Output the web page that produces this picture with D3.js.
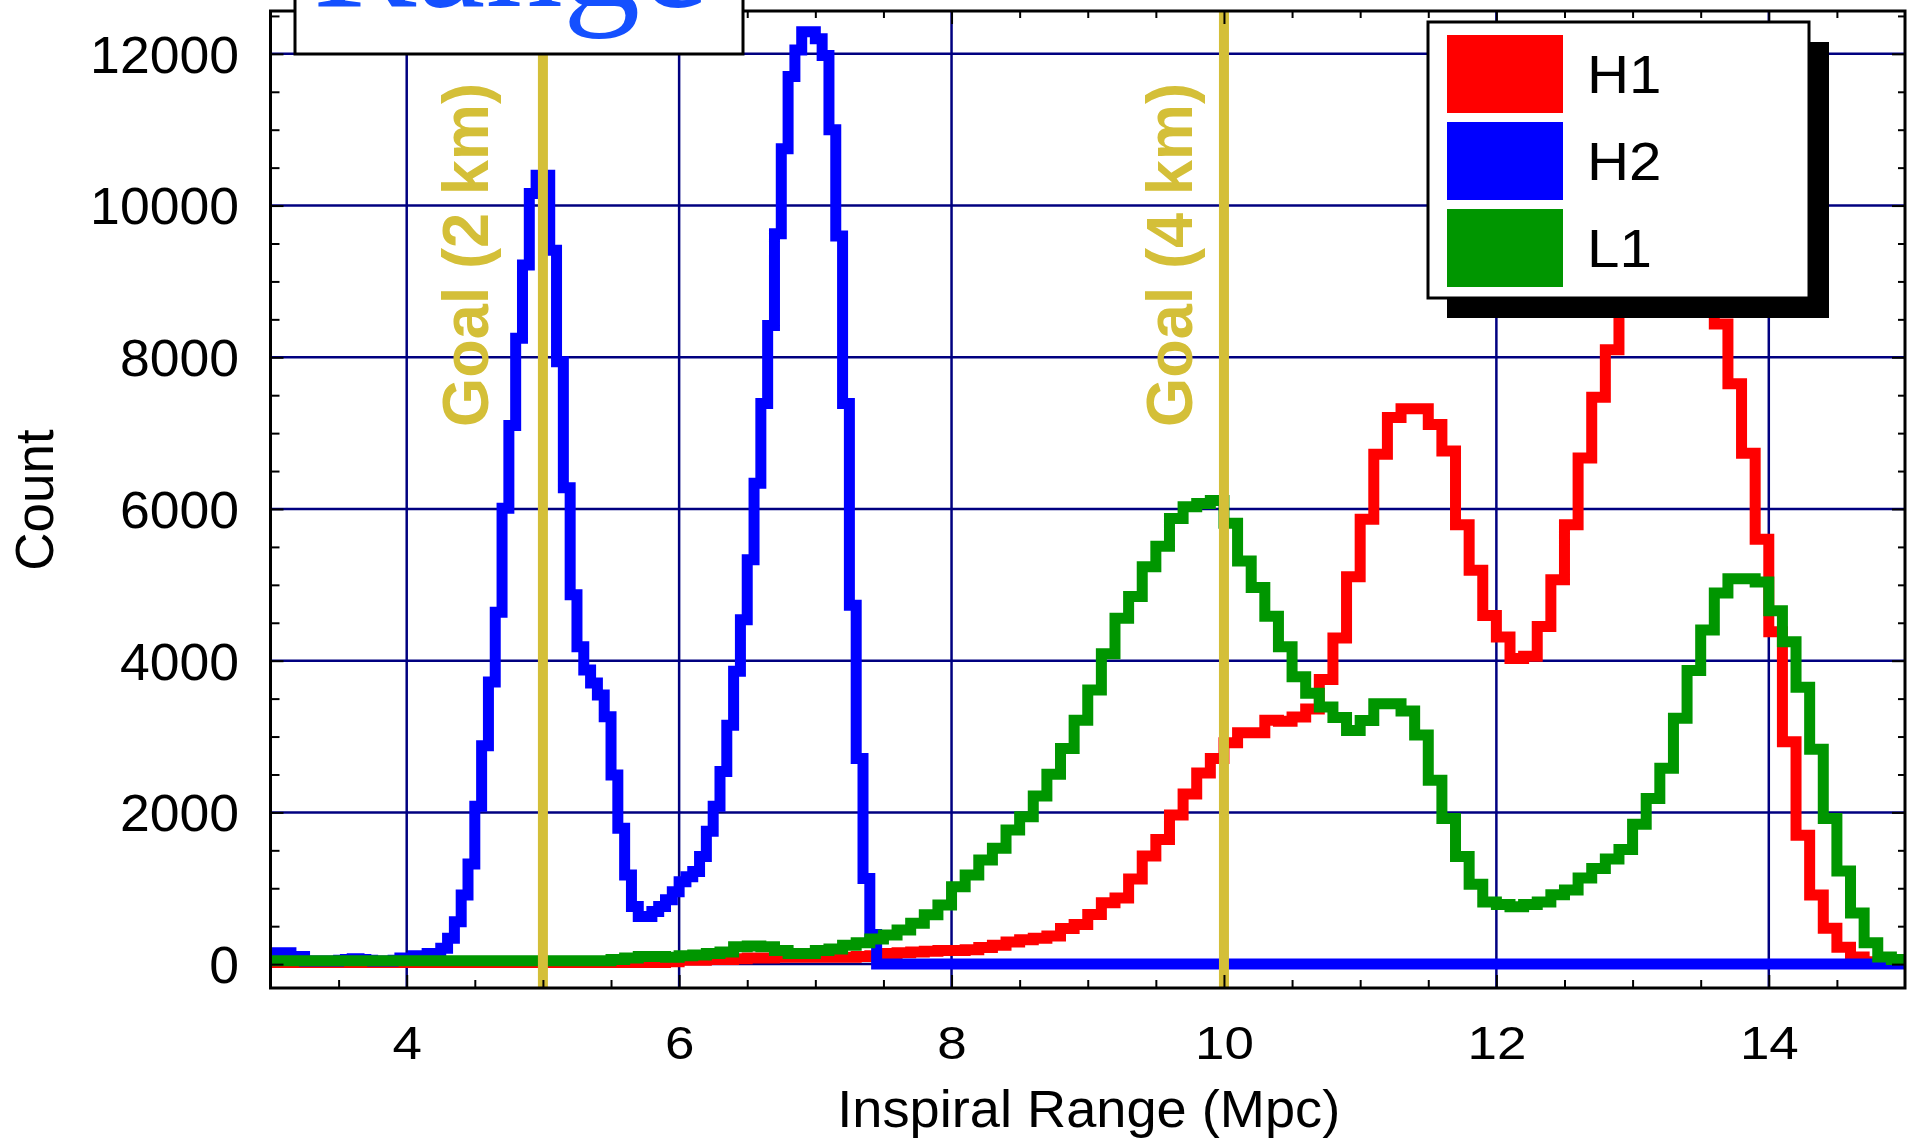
<!DOCTYPE html>
<html>
<head>
<meta charset="utf-8">
<title>Inspiral Range</title>
<script src="https://d3js.org/d3.v7.min.js"></script>
<style type="text/css">
	body { margin: 0; background: #fff; }
	svg text { font-family: "Liberation Sans", Arial, sans-serif; }
	.axis path { display: none; }
	.axis line { stroke: #000; stroke-width: 2; }
</style>
</head>
<body>
<script type="text/javascript">

// histogram start (Mpc) and bin widths
var rangeStart = 3;
var h1BinWidth = 0.1;
var h2BinWidth = 0.05;
var l1BinWidth = 0.1;

// H1 counts, 0.1 Mpc bins from 3.0
var h1Counts = [
	20, 20, 20, 20, 20, 20, 20, 20, 20, 20,
	20, 20, 20, 20, 20, 20, 20, 20, 20, 20,
	20, 20, 20, 20, 20, 20, 20, 20, 20, 30,
	50, 50, 60, 60, 70, 80, 80, 90, 90, 90,
	90, 90, 90, 100, 110, 140, 150, 160, 170, 180,
	180, 190, 220, 250, 290, 320, 340, 370, 470, 523,
	654, 809, 872, 1123, 1425, 1644, 1966, 2242, 2519, 2711,
	2919, 3050, 3050, 3216, 3200, 3258, 3362, 3752, 4300, 5107,
	5863, 6722, 7207, 7320, 7320, 7113, 6766, 5791, 5193, 4596,
	4312, 4029, 4060, 4451, 5068, 5791, 6672, 7472, 8100, 8800,
	9300, 9600, 9700, 9600, 9400, 9000, 8440, 7650, 6735, 5600,
	4380, 2930, 1700, 912, 473, 221, 95, 30, 20, 10
];

// H2 counts, 0.05 Mpc bins from 3.0
var h2Counts = [
	150, 150, 150, 100, 100, 40, 40, 40, 40, 40,
	50, 60, 70, 60, 50, 40, 40, 40, 50, 80,
	80, 110, 110, 140, 140, 210, 340, 560, 910, 1320,
	2080, 2880, 3720, 4640, 6010, 7100, 8250, 9215, 10160, 10400,
	10400, 9410, 7940, 6280, 4870, 4185, 3877, 3706, 3548, 3262,
	2494, 1791, 1176, 758, 626, 626, 692, 758, 847, 955,
	1087, 1150, 1220, 1420, 1750, 2080, 2540, 3150, 3860, 4540,
	5330, 6340, 7390, 8420, 9630, 10750, 11700, 12050, 12290, 12290,
	12200, 11980, 11000, 9600, 7390, 4730, 2710, 1130, 390, 0,
	0, 0, 0, 0, 0, 0, 0, 0, 0, 0, 0, 0, 0, 0, 0, 0, 0, 0, 0, 0, 0, 0, 0, 0, 0, 0, 0, 0, 0, 0,
	0, 0, 0, 0, 0, 0, 0, 0, 0, 0, 0, 0, 0, 0, 0, 0, 0, 0, 0, 0, 0, 0, 0, 0, 0, 0, 0, 0, 0, 0,
	0, 0, 0, 0, 0, 0, 0, 0, 0, 0, 0, 0, 0, 0, 0, 0, 0, 0, 0, 0, 0, 0, 0, 0, 0, 0, 0, 0, 0, 0,
	0, 0, 0, 0, 0, 0, 0, 0, 0, 0, 0, 0, 0, 0, 0, 0, 0, 0, 0, 0, 0, 0, 0, 0, 0, 0, 0, 0, 0, 0,
	0, 0, 0, 0, 0, 0, 0, 0, 0, 0, 0, 0, 0, 0, 0, 0, 0, 0, 0, 0, 0, 0, 0, 0, 0, 0, 0, 0, 0, 0
];

// L1 counts, 0.1 Mpc bins from 3.0
var l1Counts = [
	45, 45, 45, 45, 45, 45, 45, 45, 45, 45,
	45, 45, 45, 45, 45, 45, 45, 45, 45, 45,
	45, 45, 45, 45, 45, 60, 80, 100, 100, 90,
	110, 120, 140, 160, 230, 240, 230, 180, 140, 140,
	180, 200, 250, 280, 330, 385, 450, 540, 650, 780,
	1020, 1176, 1373, 1527, 1768, 1944, 2217, 2503, 2842, 3216,
	3612, 4091, 4560, 4846, 5238, 5508, 5873, 6030, 6071, 6113,
	5811, 5315, 4966, 4587, 4185, 3789, 3570, 3389, 3250, 3080,
	3210, 3431, 3431, 3336, 3021, 2424, 1920, 1417, 1052, 818,
	787, 756, 787, 818, 913, 977, 1134, 1259, 1385, 1510,
	1844, 2184, 2581, 3242, 3871, 4406, 4891, 5080, 5080, 5036,
	4658, 4249, 3651, 2832, 1920, 1228, 675, 283, 95, 60
];

var seriesNames = ["H1", "H2", "L1"];
var seriesColors = ["#ff0000", "#0000ff", "#009600"];

var goalValues = [5, 10];
var goalLabels = ["Goal (2 km)", "Goal (4 km)"];

var xTickValues = [4, 6, 8, 10, 12, 14];
var yTickValues = [0, 2000, 4000, 6000, 8000, 10000, 12000];

var xTitle = "Inspiral Range (Mpc)";
var yTitle = "Count";
var chartTitle = "Range";

// layout
var svgWidth = 1917;
var svgHeight = 1141;
var plotLeft = 270.5, plotRight = 1905, plotTop = 11, plotBottom = 988;
var gold = "#d4bf38";
var navy = "#000080";

var xScale = d3.scaleLinear().domain([3, 15]).range([plotLeft, plotRight]);
var yScale = d3.scaleLinear().domain([-315, 12565]).range([plotBottom, plotTop]);

var xMinor = d3.range(3.5, 15, 0.5).filter(function(d) { return xTickValues.indexOf(d) < 0; });
var yMinor = d3.range(500, 12565, 500).filter(function(d) { return yTickValues.indexOf(d) < 0; });

var svg = d3.select('body').append('svg')
	.attr('width', svgWidth)
	.attr('height', svgHeight);

svg.append('rect').attr('width', svgWidth).attr('height', svgHeight).attr('fill', '#fff');

svg.append('clipPath').attr('id', 'plotClip')
	.append('rect')
	.attr('x', plotLeft).attr('y', plotTop)
	.attr('width', plotRight - plotLeft).attr('height', plotBottom - plotTop);

//Grid
var grid = svg.append('g');
grid.selectAll('line.gx').data(xTickValues).enter().append('line')
	.attr('x1', function(d) { return xScale(d); }).attr('x2', function(d) { return xScale(d); })
	.attr('y1', plotTop).attr('y2', plotBottom)
	.attr('stroke', navy).attr('stroke-width', 2.5);
grid.selectAll('line.gy').data(yTickValues).enter().append('line')
	.attr('y1', function(d) { return yScale(d); }).attr('y2', function(d) { return yScale(d); })
	.attr('x1', plotLeft).attr('x2', plotRight)
	.attr('stroke', navy).attr('stroke-width', 2.5);

//Histograms
function histPoints(counts, width) {
	var pts = counts.map(function(c, i) { return [rangeStart + i * width, c]; });
	pts.push([rangeStart + counts.length * width, counts[counts.length - 1]]);
	return pts;
}
var line = d3.line()
	.x(function(d) { return xScale(d[0]); })
	.y(function(d) { return yScale(d[1]); })
	.curve(d3.curveStepAfter);

var series = [
	histPoints(h1Counts, h1BinWidth),
	histPoints(h2Counts, h2BinWidth),
	histPoints(l1Counts, l1BinWidth)
];

svg.append('g').attr('clip-path', 'url(#plotClip)')
	.selectAll('path').data(series).enter().append('path')
	.attr('d', line)
	.attr('fill', 'none')
	.attr('stroke', function(d, i) { return seriesColors[i]; })
	.attr('stroke-width', 11)
	.attr('stroke-linejoin', 'miter');

//Goal lines
svg.selectAll('line.goal').data(goalValues).enter().append('line')
	.attr('x1', function(d) { return xScale(d); }).attr('x2', function(d) { return xScale(d); })
	.attr('y1', plotTop).attr('y2', plotBottom)
	.attr('stroke', gold).attr('stroke-width', 10);

var goalOffsets = [-55, -32];
svg.selectAll('text.goal').data(goalValues).enter().append('text')
	.attr('transform', function(d, i) { return 'translate(' + (xScale(d) + goalOffsets[i]) + ',427) rotate(-90)'; })
	.attr('font-size', 65)
	.attr('font-weight', 'bold')
	.attr('fill', gold)
	.attr('textLength', 344)
	.attr('lengthAdjust', 'spacingAndGlyphs')
	.text(function(d, i) { return goalLabels[i]; });

//Axes (ticks inward on all four sides)
function addAxis(axis, tx, ty, vals, size, fmt) {
	return svg.append('g').attr('class', 'axis')
		.attr('transform', 'translate(' + tx + ',' + ty + ')')
		.call(axis.tickValues(vals).tickSize(size).tickFormat(fmt));
}
var noLabel = function() { return ''; };
addAxis(d3.axisLeft(yScale), plotLeft, 0, yMinor, -9, noLabel);
addAxis(d3.axisRight(yScale), plotRight, 0, yMinor, -7, noLabel);
addAxis(d3.axisRight(yScale), plotRight, 0, yTickValues, -13, noLabel);
addAxis(d3.axisBottom(xScale), 0, plotBottom, xMinor, -8, noLabel);
addAxis(d3.axisTop(xScale), 0, plotTop, xMinor, -7, noLabel);
addAxis(d3.axisTop(xScale), 0, plotTop, xTickValues, -13, noLabel);

var yAxisG = addAxis(d3.axisLeft(yScale).tickPadding(30), plotLeft, 0, yTickValues, -13, d3.format('d'));
yAxisG.selectAll('text')
	.attr('font-size', 51)
	.attr('fill', '#000')
	.attr('dy', '0.36em')
	.attr('transform', 'scale(1.05,1)');

var xAxisG = addAxis(d3.axisBottom(xScale).tickPadding(38), 0, plotBottom, xTickValues, -13, d3.format('d'));
xAxisG.selectAll('text')
	.attr('font-size', 46)
	.attr('fill', '#000')
	.attr('transform', 'scale(1.15,1)');

//Frame
svg.append('rect')
	.attr('x', plotLeft).attr('y', plotTop)
	.attr('width', plotRight - plotLeft).attr('height', plotBottom - plotTop)
	.attr('fill', 'none').attr('stroke', '#000').attr('stroke-width', 3);

//Axis titles
svg.append('text')
	.attr('x', (plotLeft + plotRight) / 2 + 1).attr('y', 1127)
	.attr('text-anchor', 'middle')
	.attr('font-size', 51)
	.attr('textLength', 503)
	.attr('lengthAdjust', 'spacingAndGlyphs')
	.text(xTitle);

svg.append('text')
	.attr('transform', 'translate(53,500) rotate(-90)')
	.attr('text-anchor', 'middle')
	.attr('font-size', 53)
	.text(yTitle);

//Title box
svg.append('rect')
	.attr('x', 295).attr('y', -10).attr('width', 448).attr('height', 64)
	.attr('fill', '#fff').attr('stroke', '#000').attr('stroke-width', 3);
svg.append('text')
	.attr('x', 313).attr('y', 6)
	.style('font-family', '"Liberation Serif", "Times New Roman", serif')
	.attr('font-size', 155)
	.attr('fill', '#1450ff')
	.text(chartTitle);

//Legend
var legend = svg.append('g');
legend.append('rect')
	.attr('x', 1447).attr('y', 42).attr('width', 382).attr('height', 276)
	.attr('fill', '#000');
legend.append('rect')
	.attr('x', 1428).attr('y', 22).attr('width', 381).attr('height', 276)
	.attr('fill', '#fff').attr('stroke', '#000').attr('stroke-width', 3);
legend.selectAll('rect.sw').data(seriesNames).enter().append('rect')
	.attr('x', 1447)
	.attr('y', function(d, i) { return 35 + i * 87; })
	.attr('width', 116).attr('height', 78)
	.attr('fill', function(d, i) { return seriesColors[i]; });
legend.selectAll('text').data(seriesNames).enter().append('text')
	.attr('transform', function(d, i) { return 'translate(1587,' + (93 + i * 87) + ') scale(1.1,1)'; })
	.attr('font-size', 53)
	.text(function(d) { return d; });

</script>
</body>
</html>
